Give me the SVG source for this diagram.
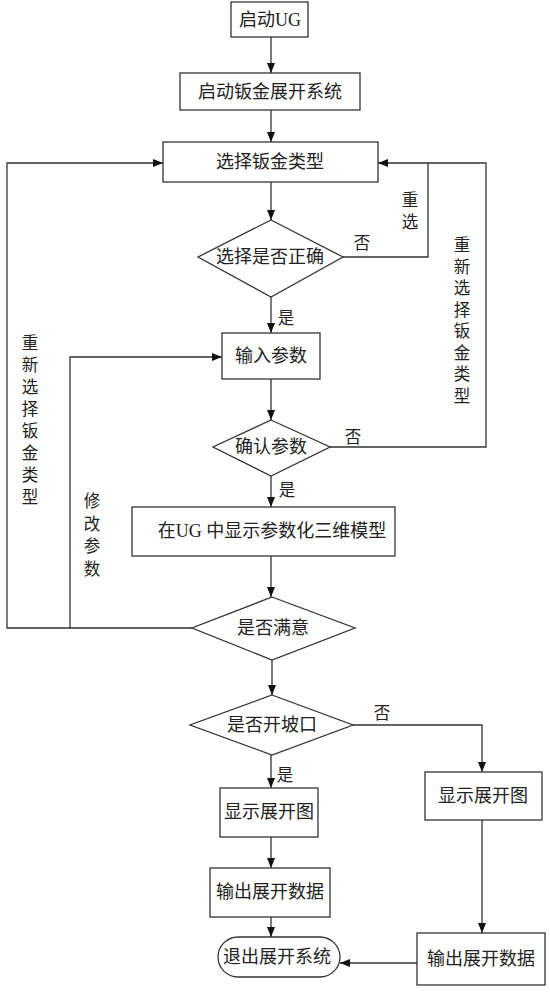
<svg xmlns="http://www.w3.org/2000/svg" width="550" height="992" viewBox="0 0 550 992">
<defs>
<marker id="ah" markerWidth="10" markerHeight="8" refX="10" refY="4" orient="auto" markerUnits="userSpaceOnUse">
<path d="M0,0 L10,4 L0,8 z" fill="#111"/>
</marker>
<style>
.n{fill:#fff;stroke:#333;stroke-width:1.3}
.t{font-family:"Liberation Serif","Noto Sans CJK SC",serif;font-size:18px;fill:#222;text-anchor:middle;dominant-baseline:central}
.l{font-family:"Liberation Serif","Noto Sans CJK SC",serif;font-size:16.5px;fill:#222;text-anchor:middle}
.c{fill:none;stroke:#333;stroke-width:1.3}
.a{marker-end:url(#ah)}
</style>
</defs>
<rect width="550" height="992" fill="#fff"/>
<g id="connectors">
<path class="c a" d="M271,37 V73"/>
<path class="c a" d="M271,110 V142"/>
<path class="c a" d="M271,182 V220"/>
<path class="c a" d="M271,297 V333"/>
<path class="c a" d="M271,379 V420"/>
<path class="c a" d="M271,476 V507"/>
<path class="c a" d="M271,556 V597"/>
<path class="c a" d="M272,660 V695"/>
<path class="c a" d="M271,755 V788"/>
<path class="c a" d="M271,837 V868"/>
<path class="c a" d="M271,917 V937"/>
<path class="c a" d="M343,257 H428 V163 H378"/>
<path class="c" d="M330,447 H486 V163 H428"/>
<path class="c a" d="M192,628 H7 V163 H163"/>
<path class="c a" d="M70,628 V357 H222"/>
<path class="c a" d="M353,725 H482 V772"/>
<path class="c a" d="M482,820 V933"/>
<path class="c a" d="M417,963 H340"/>
</g>
<g id="labels">
<text class="l" x="362" y="249">否</text>
<text class="l" x="286" y="324">是</text>
<text class="l" x="353" y="443">否</text>
<text class="l" x="287" y="496">是</text>
<text class="l" x="382" y="719">否</text>
<text class="l" x="285" y="781">是</text>
<text class="l" x="410" y="206"><tspan x="410">重</tspan><tspan x="410" dy="22">选</tspan></text>
<text class="l" x="462" y="251"><tspan x="462">重</tspan><tspan x="462" dy="21.5">新</tspan><tspan x="462" dy="21.5">选</tspan><tspan x="462" dy="21.5">择</tspan><tspan x="462" dy="21.5">钣</tspan><tspan x="462" dy="21.5">金</tspan><tspan x="462" dy="21.5">类</tspan><tspan x="462" dy="21.5">型</tspan></text>
<text class="l" x="30" y="349"><tspan x="30">重</tspan><tspan x="30" dy="22">新</tspan><tspan x="30" dy="22">选</tspan><tspan x="30" dy="22">择</tspan><tspan x="30" dy="22">钣</tspan><tspan x="30" dy="22">金</tspan><tspan x="30" dy="22">类</tspan><tspan x="30" dy="22">型</tspan></text>
<text class="l" x="92" y="507"><tspan x="92">修</tspan><tspan x="92" dy="22.5">改</tspan><tspan x="92" dy="22.5">参</tspan><tspan x="92" dy="22.5">数</tspan></text>
</g>
<g id="n1"><rect class="n" x="231" y="2" width="77" height="35"/><text class="t" x="270" y="20">启动UG</text></g>
<g id="n2"><rect class="n" x="180" y="73" width="180" height="37"/><text class="t" x="270" y="92">启动钣金展开系统</text></g>
<g id="n3"><rect class="n" x="163" y="142" width="215" height="40"/><text class="t" x="270" y="162">选择钣金类型</text></g>
<g id="n4"><polygon class="n" points="271,220 343,257 271,297 198,257"/><text class="t" x="270" y="257">选择是否正确</text></g>
<g id="n5"><rect class="n" x="222" y="333" width="98" height="46"/><text class="t" x="271" y="356">输入参数</text></g>
<g id="n6"><polygon class="n" points="271,420 330,447 271,476 213,447"/><text class="t" x="271" y="447">确认参数</text></g>
<g id="n7"><rect class="n" x="132" y="507" width="263" height="49"/><text class="t" x="272" y="531">在UG 中显示参数化三维模型</text></g>
<g id="n8"><polygon class="n" points="272,597 355,628 272,660 192,628"/><text class="t" x="273" y="628">是否满意</text></g>
<g id="n9"><polygon class="n" points="272,695 353,725 272,755 190,725"/><text class="t" x="272" y="725">是否开坡口</text></g>
<g id="n10"><rect class="n" x="220" y="788" width="98" height="49"/><text class="t" x="269" y="812">显示展开图</text></g>
<g id="n11"><rect class="n" x="425" y="772" width="117" height="48"/><text class="t" x="483" y="796">显示展开图</text></g>
<g id="n12"><rect class="n" x="210" y="868" width="120" height="49"/><text class="t" x="270" y="892">输出展开数据</text></g>
<g id="n13"><rect class="n" x="218" y="937" width="122" height="40" rx="20" ry="20"/><text class="t" x="277" y="957">退出展开系统</text></g>
<g id="n14"><rect class="n" x="417" y="933" width="128" height="52"/><text class="t" x="481" y="959">输出展开数据</text></g>
</svg>
